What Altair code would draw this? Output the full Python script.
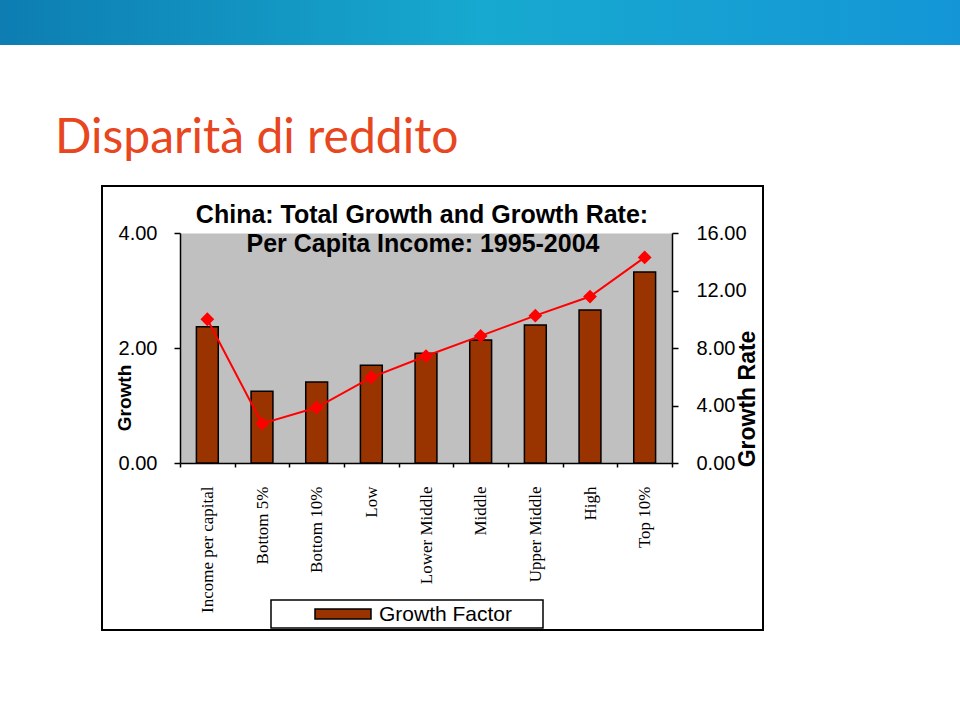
import altair as alt
import pandas as pd

# ---- data ----
categories = ["Income per capital", "Bottom 5%", "Bottom 10%", "Low", "Lower Middle",
              "Middle", "Upper Middle", "High", "Top 10%"]
growth_factor = [2.37, 1.25, 1.41, 1.70, 1.91, 2.14, 2.40, 2.66, 3.32]
growth_rate = [10.0, 2.74, 3.86, 5.96, 7.44, 8.84, 10.25, 11.58, 14.3]
left_ticks = [0, 2, 4]
right_ticks = [0, 4, 8, 12, 16]

df = pd.DataFrame({"category": categories,
                   "growth_factor": growth_factor,
                   "growth_rate": growth_rate})
one = pd.DataFrame({"k": [0]})

W, H = 492, 230
PAD = {"left": 180, "top": 233, "right": 960 - 180 - W, "bottom": 716 - 233 - H}

x_enc = alt.X("category:N", sort=categories,
              scale=alt.Scale(paddingInner=0, paddingOuter=0),
              axis=alt.Axis(title=None, labelAngle=270, labelFont="Liberation Serif",
                            labelFontSize=17, labelColor="black", labelPadding=19,
                            tickSize=4, tickColor="black", tickWidth=1.5,
                            domainColor="black", domainWidth=1.5, tickBand="extent",
                            labelOverlap=False, labelLimit=300))

bars = alt.Chart(df).mark_bar(width=alt.RelativeBandSize(0.4), fill="#993300",
                              stroke="black", strokeWidth=1.5).encode(
    x=x_enc,
    y=alt.Y("growth_factor:Q", scale=alt.Scale(domain=[0, 4], nice=False),
            axis=alt.Axis(title=None, values=left_ticks, format=".2f",
                          labelFont="Liberation Sans", labelFontSize=20, labelColor="black",
                          labelPadding=17, tickSize=6, tickColor="black", tickWidth=1.5,
                          domainColor="black", domainWidth=1.5, grid=False)))

line = alt.Chart(df).mark_line(color="#FF0000", strokeWidth=2).encode(
    x=x_enc,
    y=alt.Y("growth_rate:Q", scale=alt.Scale(domain=[0, 16], nice=False),
            axis=alt.Axis(orient="right", title=None, values=right_ticks, format=".2f",
                          labelFont="Liberation Sans", labelFontSize=20, labelColor="black",
                          labelPadding=18, tickSize=6, tickColor="black", tickWidth=1.5,
                          domainColor="black", domainWidth=1.5, grid=False)))

pts = alt.Chart(df).mark_point(shape="diamond", filled=True, color="#FF0000",
                               size=190, opacity=1).encode(
    x=x_enc,
    y=alt.Y("growth_rate:Q", scale=alt.Scale(domain=[0, 16], nice=False), axis=None))

header = alt.Chart(one).mark_rect(
    fill=alt.LinearGradient(gradient="linear", x1=0, x2=1, y1=0, y2=0,
                            stops=[alt.GradientStop(color="#0D7DB2", offset=0),
                                   alt.GradientStop(color="#17A9CF", offset=0.5),
                                   alt.GradientStop(color="#1496D6", offset=1)])
).encode(x=alt.value(-180), x2=alt.value(780), y=alt.value(-233), y2=alt.value(-188))

frame = alt.Chart(one).mark_rect(fill="transparent", stroke="black", strokeWidth=2).encode(
    x=alt.value(-78), x2=alt.value(583), y=alt.value(-47), y2=alt.value(397))


def txt(s, x, y, size, font="Liberation Sans", weight="normal", angle=0, align="center",
        color="black", baseline="alphabetic"):
    return alt.Chart(one).mark_text(text=s, font=font, fontSize=size, fontWeight=weight,
                                    angle=angle, align=align, baseline=baseline,
                                    color=color).encode(x=alt.value(x), y=alt.value(y))


slide_title = txt("Disparità di reddito", -125, -80, 48, font="Lato", align="left",
                  color="#E8461E")
title1 = txt("China: Total Growth and Growth Rate:", 242, -10, 25, weight="bold")
title2 = txt("Per Capita Income: 1995-2004", 243, 19, 25, weight="bold")
ytitle_l = txt("Growth", -55, 165, 19, weight="bold", angle=270, baseline="middle")
ytitle_r = txt("Growth Rate", 568, 166, 23, weight="bold", angle=270, baseline="middle")

legend_box = alt.Chart(one).mark_rect(fill="white", stroke="black", strokeWidth=1.5).encode(
    x=alt.value(91), x2=alt.value(363), y=alt.value(367), y2=alt.value(395))
legend_sw = alt.Chart(one).mark_rect(fill="#993300", stroke="black", strokeWidth=1.5).encode(
    x=alt.value(135), x2=alt.value(191), y=alt.value(376), y2=alt.value(386))
legend_tx = txt("Growth Factor", 199, 382, 21, align="left", baseline="middle")

chart = alt.layer(
    header, frame, bars, line, pts, slide_title, title1, title2, ytitle_l, ytitle_r,
    legend_box, legend_sw, legend_tx
).resolve_scale(y="independent").properties(
    width=W, height=H, padding=PAD, autosize=alt.AutoSizeParams(type="none"),
    background="white"
).configure_view(fill="#C0C0C0", stroke="transparent")

chart.save("out.html", embed_options={"renderer": "svg", "actions": False})
